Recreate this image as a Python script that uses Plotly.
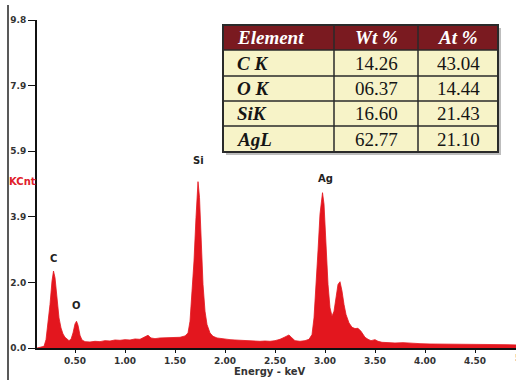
import plotly.graph_objects as go

# --- Spectrum data ---
energy_kev = [0.12, 0.16, 0.19, 0.21, 0.23, 0.25, 0.27, 0.285, 0.30, 0.32, 0.34, 0.36, 0.38, 0.40,
              0.42, 0.44, 0.46, 0.48, 0.50, 0.515, 0.53, 0.55, 0.57, 0.60, 0.65, 0.70, 0.75, 0.80,
              0.85, 0.90, 0.95, 1.00, 1.05, 1.10, 1.15, 1.20, 1.23, 1.26, 1.30, 1.35, 1.40, 1.45,
              1.50, 1.55, 1.60, 1.63, 1.65, 1.67, 1.69, 1.71, 1.73, 1.745, 1.76, 1.78, 1.80, 1.82,
              1.85, 1.88, 1.92, 1.96, 2.00, 2.05, 2.10, 2.15, 2.20, 2.25, 2.30, 2.35, 2.40, 2.45,
              2.50, 2.55, 2.60, 2.64, 2.67, 2.70, 2.75, 2.80, 2.84, 2.87, 2.89, 2.91, 2.93, 2.95,
              2.975, 2.99, 3.01, 3.03, 3.05, 3.07, 3.09, 3.11, 3.13, 3.15, 3.17, 3.19, 3.21, 3.24,
              3.27, 3.30, 3.33, 3.36, 3.38, 3.40, 3.43, 3.46, 3.50, 3.53, 3.57, 3.62, 3.70, 3.78,
              3.85, 3.95, 4.05, 4.20, 4.35, 4.50, 4.65, 4.80, 4.95]
kcounts = [0.0, 0.02, 0.05, 0.25, 0.7, 1.3, 2.0, 2.3, 2.1, 1.45, 0.9, 0.6, 0.42, 0.32,
           0.26, 0.22, 0.26, 0.45, 0.72, 0.8, 0.68, 0.38, 0.24, 0.19, 0.18, 0.2, 0.19, 0.22,
           0.21, 0.24, 0.23, 0.25, 0.24, 0.27, 0.26, 0.33, 0.38, 0.3, 0.28, 0.3, 0.31, 0.3,
           0.33, 0.32, 0.36, 0.45, 0.8, 1.6, 2.6, 3.9, 4.97, 4.5, 3.2, 1.9, 1.1, 0.7,
           0.45, 0.35, 0.3, 0.28, 0.27, 0.25, 0.24, 0.23, 0.22, 0.21, 0.2, 0.2, 0.21, 0.2,
           0.22, 0.26, 0.33, 0.39, 0.3, 0.22, 0.2, 0.22, 0.26, 0.4, 0.9, 1.8, 2.9, 4.0,
           4.64, 4.3, 3.0, 1.9, 1.2, 0.95, 1.1, 1.5, 1.9, 1.98, 1.7, 1.3, 1.0, 0.75,
           0.62, 0.58, 0.59, 0.5, 0.4, 0.32, 0.26, 0.22, 0.25, 0.2, 0.17, 0.16, 0.15, 0.16,
           0.14, 0.13, 0.12, 0.12, 0.11, 0.11, 0.1, 0.1, 0.09]

# Peak labels
peak_labels = ["C", "O", "Si", "Ag"]
peak_x = [0.285, 0.515, 1.73, 3.0]
peak_y = [2.45, 1.05, 5.38, 4.85]

# Axis ticks
y_tickvals = [0.0, 1.96, 3.92, 5.88, 7.84, 9.8]
y_ticktext = ["0.0", "2.0", "3.9", "5.9", "7.9", "9.8"]
x_tickvals = [0.5, 1.0, 1.5, 2.0, 2.5, 3.0, 3.5, 4.0, 4.5]
x_ticktext = ["0.50", "1.00", "1.50", "2.00", "2.50", "3.00", "3.50", "4.00", "4.50"]

# Composition table
tbl_header = ["Element", "Wt %", "At %"]
tbl_element = ["C K", "O K", "SiK", "AgL"]
tbl_wt = ["14.26", "06.37", "16.60", "62.77"]
tbl_at = ["43.04", "14.44", "21.43", "21.10"]

RED = "#E3161E"

# figure geometry (pixels)
W, H = 516, 380
ML, MR, MT, MB = 37, 0, 20, 32
PW, PH = W - ML - MR, H - MT - MB


def px(x):
    return (x - ML) / PW


def py(y):
    return (H - MB - y) / PH


fig = go.Figure()
fig.add_trace(go.Scatter(x=energy_kev, y=kcounts, mode="lines", fill="tozeroy",
                         line=dict(color=RED, width=0.8), fillcolor=RED,
                         hoverinfo="skip", showlegend=False))

annotations = []
for lab, xx, yy in zip(peak_labels, peak_x, peak_y):
    annotations.append(dict(x=xx, y=yy, text=lab, showarrow=False, xanchor="center", yanchor="bottom",
                            font=dict(family="DejaVu Sans", size=10, color="#222", weight="bold")))

annotations.append(dict(xref="paper", yref="paper", x=1.0, y=0, yshift=-10, xshift=-3, text="5.00",
                        showarrow=False, xanchor="left", yanchor="middle",
                        font=dict(family="DejaVu Sans", size=9, color="#333", weight="bold")))
annotations.append(dict(xref="paper", yref="paper", x=px(7), y=py(181), text="KCnt", showarrow=False,
                        xanchor="left", yanchor="middle",
                        font=dict(family="DejaVu Sans", size=10, color="#E0202A", weight="bold")))
annotations.append(dict(xref="paper", yref="paper", x=px(270), y=py(371), text="Energy - keV",
                        showarrow=False, xanchor="center", yanchor="middle",
                        font=dict(family="DejaVu Sans", size=10, color="#333", weight="bold")))

shapes = [dict(type="line", xref="paper", yref="paper", x0=px(8), x1=px(8), y0=py(5), y1=py(390),
               line=dict(color="#222", width=1.5))]

# ---- table built from shapes + annotations ----
col_edges = [223, 334, 418, 498]
row_edges = [25, 50, 76, 101, 126, 152]
HEAD_FILL = "#7A1A20"
CELL_FILL = "#F7F3C8"

# shadow
shapes.append(dict(type="rect", xref="paper", yref="paper", x0=px(col_edges[0] + 3), x1=px(col_edges[-1] + 3),
                   y0=py(row_edges[0] + 3), y1=py(row_edges[-1] + 3),
                   fillcolor="#BDBDBD", line=dict(width=0), layer="above"))
shapes.append(dict(type="rect", xref="paper", yref="paper", x0=px(col_edges[0]), x1=px(col_edges[-1]),
                   y0=py(row_edges[0]), y1=py(row_edges[1]), fillcolor=HEAD_FILL,
                   line=dict(width=0), layer="above"))
shapes.append(dict(type="rect", xref="paper", yref="paper", x0=px(col_edges[0]), x1=px(col_edges[-1]),
                   y0=py(row_edges[1]), y1=py(row_edges[-1]), fillcolor=CELL_FILL,
                   line=dict(width=0), layer="above"))
for ry in row_edges[1:-1]:
    shapes.append(dict(type="line", xref="paper", yref="paper", x0=px(col_edges[0]), x1=px(col_edges[-1]),
                       y0=py(ry), y1=py(ry), line=dict(color="#2A2A2A", width=1.5), layer="above"))
for cx in col_edges[1:-1]:
    shapes.append(dict(type="line", xref="paper", yref="paper", x0=px(cx), x1=px(cx),
                       y0=py(row_edges[0]), y1=py(row_edges[-1]), line=dict(color="#2A2A2A", width=1.5),
                       layer="above"))
shapes.append(dict(type="rect", xref="paper", yref="paper", x0=px(col_edges[0]), x1=px(col_edges[-1]),
                   y0=py(row_edges[0]), y1=py(row_edges[-1]), line=dict(color="#2A2A2A", width=2),
                   layer="above"))

columns = [tbl_element, tbl_wt, tbl_at]
for ci, head in enumerate(tbl_header):
    cx = (col_edges[ci] + col_edges[ci + 1]) / 2
    ax, xa = (px(col_edges[ci] + 12), "left") if ci == 0 else (px(cx), "center")
    annotations.append(dict(xref="paper", yref="paper", x=ax, xanchor=xa,
                            y=py((row_edges[0] + row_edges[1]) / 2), yanchor="middle",
                            text="<b><i>%s</i></b>" % head, showarrow=False,
                            font=dict(family="Liberation Serif", size=19, color="white")))
    for ri, val in enumerate(columns[ci]):
        txt = "<b><i>%s</i></b>" % val if ci == 0 else val
        annotations.append(dict(xref="paper", yref="paper", x=ax, xanchor=xa,
                                y=py((row_edges[ri + 1] + row_edges[ri + 2]) / 2), yanchor="middle",
                                text=txt, showarrow=False,
                                font=dict(family="Liberation Serif", size=19, color="#151515")))

fig.update_layout(
    width=W, height=H,
    margin=dict(l=ML, r=MR, t=MT, b=MB),
    paper_bgcolor="white", plot_bgcolor="white",
    xaxis=dict(range=[0.12, 4.91], tickvals=x_tickvals, ticktext=x_ticktext, automargin=False,
               showgrid=False, zeroline=False, showline=True, linecolor="#111", linewidth=2,
               ticks="outside", ticklen=3, tickcolor="#111",
               tickfont=dict(family="DejaVu Sans", size=9, color="#333", weight="bold")),
    yaxis=dict(range=[0, 9.8], tickvals=y_tickvals, ticktext=y_ticktext, automargin=False,
               showgrid=False, zeroline=False, showline=True, linecolor="#111", linewidth=2,
               ticks="outside", ticklen=7, tickcolor="#111",
               tickfont=dict(family="DejaVu Sans", size=9, color="#333", weight="bold")),
    annotations=annotations,
    shapes=shapes,
)

fig.write_html("out.html", config={"displayModeBar": False},
               post_script="document.body.style.margin='0';")
